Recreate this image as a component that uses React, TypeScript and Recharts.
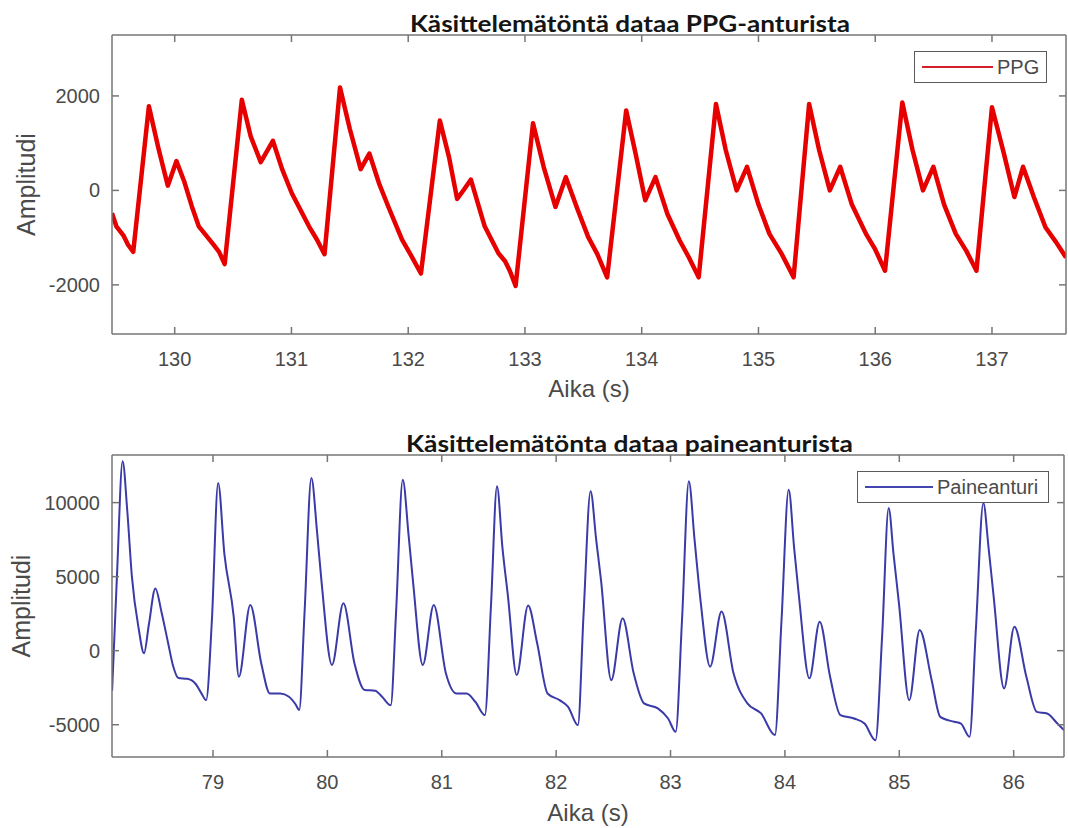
import { Label, Line, LineChart, XAxis, YAxis } from "recharts"

// PPG (top)
const ppgTime = [
  129.463, 129.5, 129.56, 129.6, 129.645, 129.779, 129.86, 129.941, 130.015, 130.08, 130.147, 130.206, 130.324,
  130.38, 130.428, 130.575, 130.65, 130.737, 130.841, 130.92, 131.003, 131.15, 131.22, 131.283, 131.416, 131.5,
  131.593, 131.667, 131.75, 131.829, 131.947, 132.03, 132.109, 132.271, 132.35, 132.419, 132.478, 132.537, 132.6,
  132.655, 132.773, 132.83, 132.87, 132.92, 133.069, 133.16, 133.261, 133.35, 133.45, 133.542, 133.62, 133.704,
  133.867, 133.95, 134.03, 134.118, 134.22, 134.325, 134.4, 134.488, 134.636, 134.72, 134.813, 134.902, 135.0,
  135.094, 135.2, 135.301, 135.434, 135.52, 135.611, 135.7, 135.8, 135.921, 136.0, 136.084, 136.232, 136.32,
  136.409, 136.498, 136.59, 136.69, 136.78, 136.867, 137.0, 137.1, 137.192, 137.266, 137.36, 137.458, 137.55,
  137.634,
]
const ppgValue = [
  -480, -760, -950, -1150, -1300, 1780, 900, 100, 620, 200, -340, -760, -1120,
  -1300, -1560, 1920, 1150, 600, 1050, 450, -60, -760, -1050, -1350, 2180, 1300,
  450, 780, 150, -340, -1040, -1400, -1760, 1480, 700, -180, 20, 230, -300,
  -760, -1330, -1500, -1700, -2020, 1420, 500, -350, 280, -400, -990, -1350, -1840,
  1690, 750, -210, 280, -500, -1060, -1400, -1840, 1830, 850, 0, 500, -300,
  -920, -1350, -1840, 1830, 850, 0, 500, -300, -920, -1250, -1700, 1860, 850,
  0, 500, -300, -920, -1280, -1700, 1760, 800, -140, 500, -150, -780, -1100,
  -1420,
]
const ppgXTicks = [130, 131, 132, 133, 134, 135, 136, 137]
const ppgYTicks = [-2000, 0, 2000]

// Paineanturi (bottom)
const pressureTime = [
  78.118, 78.16, 78.21, 78.25, 78.291, 78.35, 78.397, 78.44, 78.496, 78.55, 78.608, 78.65, 78.698, 78.774, 78.849,
  78.9, 78.94, 78.99, 79.045, 79.1, 79.181, 79.226, 79.326, 79.422, 79.498, 79.588, 79.664, 79.72, 79.754, 79.8,
  79.86, 79.91, 79.95, 80.04, 80.14, 80.237, 80.327, 80.418, 80.478, 80.554, 80.6, 80.659, 80.71, 80.75, 80.834,
  80.93, 81.036, 81.127, 81.217, 81.293, 81.377, 81.43, 81.483, 81.53, 81.579, 81.655, 81.755, 81.834, 81.925,
  82.03, 82.105, 82.19, 82.24, 82.301, 82.35, 82.392, 82.482, 82.581, 82.678, 82.768, 82.889, 82.979, 83.045,
  83.1, 83.16, 83.21, 83.265, 83.346, 83.446, 83.551, 83.672, 83.792, 83.913, 83.97, 84.033, 84.08, 84.123,
  84.214, 84.304, 84.395, 84.485, 84.605, 84.696, 84.792, 84.85, 84.907, 84.95, 84.997, 85.087, 85.178, 85.283,
  85.358, 85.479, 85.539, 85.614, 85.67, 85.735, 85.78, 85.825, 85.916, 86.006, 86.111, 86.202, 86.292, 86.382,
  86.44,
]
const pressureValue = [
  -2700, 5000, 12790, 9500, 5000, 1500, -180, 1800, 4200, 2600, 500, -1000, -1850, -1900, -2250,
  -2900, -3340, 2000, 11320, 6500, 2300, -1760, 3090, -860, -2890, -2900, -3110, -3600, -4000, 2500,
  11660, 8000, 4560, -970, 3200, -860, -2660, -2700, -3110, -3680, 2500, 11550, 7800, 4560, -970,
  3090, -1530, -2890, -2900, -3450, -4350, 3000, 11100, 7000, 3650, -1650, 3050, 500, -2890,
  -3340, -3790, -5030, 2500, 10760, 7500, 4780, -1990, 2190, -1530, -3560, -3900, -4580, -5480,
  2000, 11440, 7500, 3200, -1080, 2640, -1530, -3560, -4240, -5700, 2000, 10870, 7000, 3650,
  -1870, 1960, -1760, -4350, -4580, -4920, -6050, 1000, 9630, 6500, 3200, -3340, 1400, -1990,
  -4470, -4800, -4920, -5820, 1500, 9970, 7000, 3650, -2550, 1620, -1760, -4130, -4240, -4920,
  -5370,
]
const pressureXTicks = [79, 80, 81, 82, 83, 84, 85, 86]
const pressureYTicks = [-5000, 0, 5000, 10000]

const ppgData = ppgTime.map((t, i) => ({ t, v: ppgValue[i] }))
const pressureData = pressureTime.map((t, i) => ({ t, v: pressureValue[i] }))

const AXIS = "#767676"
const TEXT = "#4a4a4a"
const FONT = "'Liberation Sans', Arial, sans-serif"
const TICK_LEN = 7

// MATLAB style: ticks point into the box, labels outside
const bottomTick = ({ x, y, payload }: any) => (
  <g>
    <line x1={x} y1={y} x2={x} y2={y - TICK_LEN} stroke={AXIS} strokeWidth={1.5} />
    <text x={x} y={y + 25} textAnchor="middle" dominantBaseline="central" fontSize={20} fill={TEXT} fontFamily={FONT}>
      {payload.value}
    </text>
  </g>
)
const leftTick = ({ x, y, payload }: any) => (
  <g>
    <line x1={x} y1={y} x2={x + TICK_LEN} y2={y} stroke={AXIS} strokeWidth={1.5} />
    <text x={x - 12} y={y} textAnchor="end" dominantBaseline="central" fontSize={20} fill={TEXT} fontFamily={FONT}>
      {payload.value}
    </text>
  </g>
)
const topTick = ({ x, y }: any) => <line x1={x} y1={y} x2={x} y2={y + TICK_LEN} stroke={AXIS} strokeWidth={1.5} />
const rightTick = ({ x, y }: any) => <line x1={x} y1={y} x2={x - TICK_LEN} y2={y} stroke={AXIS} strokeWidth={1.5} />

const xTitle = (text: string, dy: number) => (props: any) => {
  const vb = props.viewBox || {}
  return (
    <text x={vb.x + vb.width / 2} y={vb.y + dy} textAnchor="middle" dominantBaseline="central" fontSize={24} fill={TEXT} fontFamily={FONT}>
      {text}
    </text>
  )
}
const yTitle = (text: string, dx: number) => (props: any) => {
  const vb = props.viewBox || {}
  const cx = vb.x - dx
  const cy = vb.y + vb.height / 2
  return (
    <text x={cx} y={cy} transform={`rotate(-90 ${cx} ${cy})`} textAnchor="middle" dominantBaseline="central" fontSize={25} fill={TEXT} fontFamily={FONT}>
      {text}
    </text>
  )
}
const chartTitle = (text: string, cx: number, baseline: number, len: number) => () => (
  <text x={cx} y={baseline} textAnchor="middle" fontSize={22} fontWeight="bold" fill="#151515" fontFamily="Lato, 'Open Sans', sans-serif" textLength={len} lengthAdjust="spacingAndGlyphs">
    {text}
  </text>
)

function LegendBox({ left, top, width, lineWidth, color, label }: any) {
  return (
    <div
      style={{
        position: "absolute",
        left,
        top,
        width,
        height: 32,
        boxSizing: "border-box",
        border: "1.5px solid #5a5a5a",
        background: "#fff",
        display: "flex",
        alignItems: "center",
      }}
    >
      <div style={{ marginLeft: 7, width: lineWidth, height: 1.5, background: color }} />
      <span style={{ marginLeft: 4, fontSize: 20, fontFamily: FONT, color: TEXT }}>{label}</span>
    </div>
  )
}

export default function App() {
  return (
    <div style={{ position: "absolute", left: 0, top: 0, width: 1068, height: 828, background: "#fff" }}>
      <div style={{ position: "absolute", left: 0, top: 0 }}>
        <LineChart width={1068} height={415} data={ppgData} margin={{ top: 34, right: 1, left: 52, bottom: 41 }}>
          <XAxis
            dataKey="t"
            type="number"
            domain={[129.463, 137.634]}
            allowDataOverflow
            ticks={ppgXTicks}
            interval={0}
            tickSize={0}
            tickMargin={0}
            tickLine={false}
            tick={bottomTick}
            height={40}
            axisLine={{ stroke: AXIS, strokeWidth: 1.5 }}
          >
            <Label content={xTitle("Aika (s)", 54)} />
          </XAxis>
          <XAxis
            xAxisId="top"
            orientation="top"
            dataKey="t"
            type="number"
            domain={[129.463, 137.634]}
            allowDataOverflow
            ticks={ppgXTicks}
            interval={0}
            tickSize={0}
            tickMargin={0}
            tickLine={false}
            tick={topTick}
            height={1}
            axisLine={{ stroke: AXIS, strokeWidth: 1.5 }}
          >
            <Label content={chartTitle("Käsittelemätöntä dataa PPG-anturista", 630, 32, 440)} />
          </XAxis>
          <YAxis
            type="number"
            domain={[-3040, 3290]}
            allowDataOverflow
            ticks={ppgYTicks}
            interval={0}
            tickSize={0}
            tickMargin={0}
            tickLine={false}
            tick={leftTick}
            width={60}
            axisLine={{ stroke: AXIS, strokeWidth: 1.5 }}
          >
            <Label content={yTitle("Amplitudi", 26)} />
          </YAxis>
          <YAxis
            yAxisId="right"
            orientation="right"
            type="number"
            domain={[-3040, 3290]}
            allowDataOverflow
            ticks={ppgYTicks}
            interval={0}
            tickSize={0}
            tickMargin={0}
            tickLine={false}
            tick={rightTick}
            width={1}
            axisLine={{ stroke: AXIS, strokeWidth: 1.5 }}
          />
          <Line type="linear" dataKey="v" stroke="#e60000" strokeWidth={4.5} strokeLinejoin="round" dot={false} isAnimationActive={false} />
        </LineChart>
      </div>
      <LegendBox left={914} top={51} width={133} lineWidth={71} color="#d4202c" label="PPG" />

      <div style={{ position: "absolute", left: 0, top: 415 }}>
        <LineChart width={1068} height={413} data={pressureData} margin={{ top: 39, right: 3, left: 52, bottom: 31 }}>
          <XAxis
            dataKey="t"
            type="number"
            domain={[78.117, 86.44]}
            allowDataOverflow
            ticks={pressureXTicks}
            interval={0}
            tickSize={0}
            tickMargin={0}
            tickLine={false}
            tick={bottomTick}
            height={40}
            axisLine={{ stroke: AXIS, strokeWidth: 1.5 }}
          >
            <Label content={xTitle("Aika (s)", 55)} />
          </XAxis>
          <XAxis
            xAxisId="top"
            orientation="top"
            dataKey="t"
            type="number"
            domain={[78.117, 86.44]}
            allowDataOverflow
            ticks={pressureXTicks}
            interval={0}
            tickSize={0}
            tickMargin={0}
            tickLine={false}
            tick={topTick}
            height={1}
            axisLine={{ stroke: AXIS, strokeWidth: 1.5 }}
          >
            <Label content={chartTitle("Käsittelemätönta dataa paineanturista", 629.5, 36.5, 447)} />
          </XAxis>
          <YAxis
            type="number"
            domain={[-7180, 13215]}
            allowDataOverflow
            ticks={pressureYTicks}
            interval={0}
            tickSize={0}
            tickMargin={0}
            tickLine={false}
            tick={leftTick}
            width={60}
            axisLine={{ stroke: AXIS, strokeWidth: 1.5 }}
          >
            <Label content={yTitle("Amplitudi", 31)} />
          </YAxis>
          <YAxis
            yAxisId="right"
            orientation="right"
            type="number"
            domain={[-7180, 13215]}
            allowDataOverflow
            ticks={pressureYTicks}
            interval={0}
            tickSize={0}
            tickMargin={0}
            tickLine={false}
            tick={rightTick}
            width={1}
            axisLine={{ stroke: AXIS, strokeWidth: 1.5 }}
          />
          <Line type="monotone" dataKey="v" stroke="#3a3aa8" strokeWidth={2} dot={false} isAnimationActive={false} />
        </LineChart>
      </div>
      <LegendBox left={857} top={471} width={192} lineWidth={68} color="#4545b0" label="Paineanturi" />
    </div>
  )
}
